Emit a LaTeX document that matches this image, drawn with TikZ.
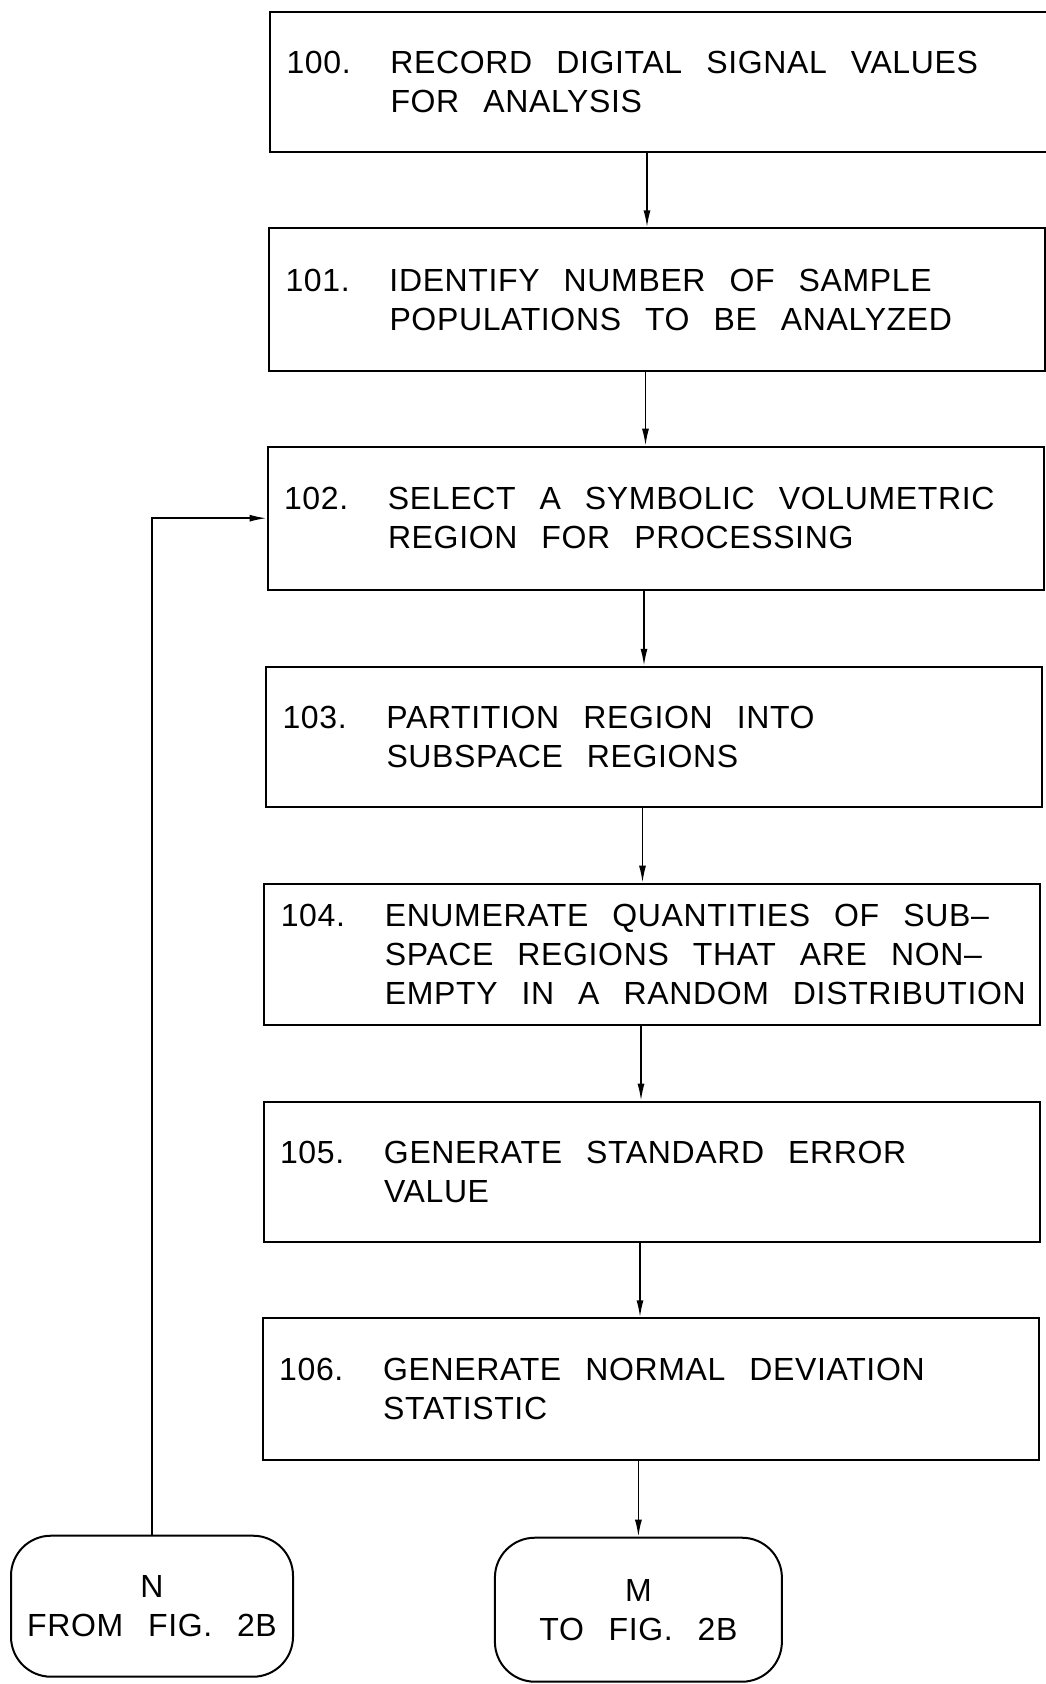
\documentclass[tikz,border=0pt]{standalone}
\usepackage{fontspec}
\usetikzlibrary{arrows.meta}
\newfontfamily\plotfont{Liberation Sans}[LetterSpace=2,WordSpace=2.6]

\tikzset{
  chartfont/.style={font={\plotfont\fontsize{32pt}{39pt}\selectfont}},
  stepbox/.style n args={3}{draw, line width=2pt, anchor=north west,
    inner xsep=16.5pt, inner ysep=0pt, align=left, chartfont,
    execute at begin node={\spaceskip=24pt\relax},
    minimum width=#1, text width=#2, minimum height=#3},
  termbox/.style={draw, line width=2pt, rounded corners=40pt, align=center,
    chartfont, inner sep=0pt},
  flow/.style={line width=1.6pt, -{Latex[length=17pt,width=7pt]}},
}
% number column and one unbreakable line of step text
\newcommand{\stepno}[1]{\makebox[104pt][l]{#1}}
\newcommand{\stepgap}{\hspace*{104pt}}
\newcommand{\stepline}[1]{\mbox{#1}}

\begin{document}
\begin{tikzpicture}[x=1pt,y=-1pt]
\useasboundingbox (0,0) rectangle (1046,1684);

% process steps
\node[stepbox={781pt}{748pt}{140pt}] (b100) at (269,10.7)
  {\stepno{100.}\stepline{RECORD DIGITAL SIGNAL VALUES}\\
   \stepgap\stepline{FOR ANALYSIS}};
\node[stepbox={776pt}{743pt}{143pt}] (b101) at (268,227.3)
  {\stepno{101.}\stepline{IDENTIFY NUMBER OF SAMPLE}\\
   \stepgap\stepline{POPULATIONS TO BE ANALYZED}};
\node[stepbox={776pt}{743pt}{143pt}] (b102) at (266.5,445.7)
  {\stepno{102.}\stepline{SELECT A SYMBOLIC VOLUMETRIC}\\
   \stepgap\stepline{REGION FOR PROCESSING}};
\node[stepbox={776pt}{743pt}{140pt}] (b103) at (265,665.8)
  {\stepno{103.}\stepline{PARTITION REGION INTO}\\
   \stepgap\stepline{SUBSPACE REGIONS}};
\node[stepbox={776pt}{743pt}{141pt}] (b104) at (263.3,882.7)
  {\stepno{104.}\stepline{ENUMERATE QUANTITIES OF SUB\textendash}\\
   \stepgap\stepline{SPACE REGIONS THAT ARE NON\textendash}\\
   \stepgap\stepline{EMPTY IN A RANDOM DISTRIBUTION}};
\node[stepbox={776pt}{743pt}{140pt}] (b105) at (262.5,1100.7)
  {\stepno{105.}\stepline{GENERATE STANDARD ERROR}\\
   \stepgap\stepline{VALUE}};
\node[stepbox={776pt}{743pt}{142pt}] (b106) at (261.7,1317.3)
  {\stepno{106.}\stepline{GENERATE NORMAL DEVIATION}\\
   \stepgap\stepline{STATISTIC}};

% off-page connectors
\node[termbox, minimum width=282pt, minimum height=141pt] (N) at (152,1606.2)
  {N\\FROM FIG. 2B};
\node[termbox, minimum width=287pt, minimum height=144pt] (M) at (638.4,1609.7)
  {M\\TO FIG. 2B};

% connector columns
\coordinate (c1) at (647,0);
\coordinate (c2) at (645.5,0);
\coordinate (c3) at (644,0);
\coordinate (c4) at (642.5,0);
\coordinate (c5) at (641,0);
\coordinate (c6) at (640,0);

\draw[flow] (b100.south -| c1) -- (b101.north -| c1);
\draw[flow] (b101.south -| c2) -- (b102.north -| c2);
\draw[flow] (b102.south -| c3) -- (b103.north -| c3);
\draw[flow] (b103.south -| c4) -- (b104.north -| c4);
\draw[flow] (b104.south -| c5) -- (b105.north -| c5);
\draw[flow] (b105.south -| c6) -- (b106.north -| c6);
\draw[flow] (b106.south -| M.north) -- (M.north);
\draw[flow] (N.north) |- (b102.west);
\end{tikzpicture}
\end{document}
